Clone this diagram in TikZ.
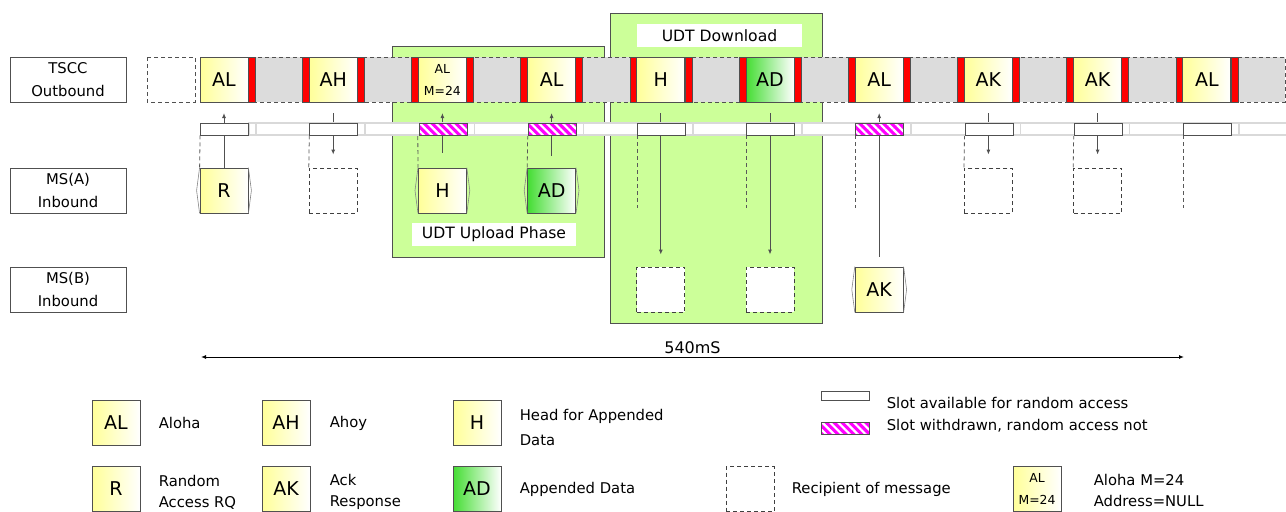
\documentclass[tikz,border=0pt]{standalone}
\usepackage{fontspec}
\setmainfont{DejaVu Sans}
\usetikzlibrary{arrows.meta,patterns.meta,positioning}

\definecolor{band}{HTML}{DCDCDC}
\definecolor{zone}{HTML}{CCFF99}
\definecolor{ylw}{HTML}{FFFF99}
\definecolor{grn}{HTML}{44DD33}
\definecolor{edge}{HTML}{505050}
\definecolor{mag}{RGB}{255,0,255}

\pgfdeclarelayer{back}
\pgfsetlayers{back,main}

\newcommand{\smallal}{\fontsize{6.2}{9.5}\selectfont}
\newcommand{\alm}{\smallal AL\\\smallal M=24}

\tikzset{
  lane/.style={draw=edge,fill=white,minimum width=58pt,minimum height=22.5pt,inner sep=0pt,align=center,font=\fontsize{7.4}{11.5}\selectfont},
  msg/.style={draw=edge,left color=ylw,right color=white,minimum width=24pt,minimum height=22.5pt,inner sep=0pt,align=center,font=\fontsize{9.5}{11}\selectfont},
  appd/.style={msg,left color=grn},
  rcp/.style={draw=black!75,dash pattern=on 2pt off 1.5pt,fill=white,minimum width=24pt,minimum height=22.5pt,inner sep=0pt},
  slotbox/.style={draw=edge,fill=white,minimum width=24pt,minimum height=6pt,inner sep=0pt},
  barred/.style={slotbox,preaction={fill=mag},pattern={Lines[angle=-45,distance=2.8pt,line width=1.1pt]},pattern color=white},
  redbar/.style={fill=red,draw=edge,line width=0.3pt},
  tag/.style={fill=white,inner sep=0pt,minimum height=11.5pt,font=\fontsize{7.8}{9}\selectfont},
  note/.style={anchor=west,inner sep=0pt,align=left,font=\fontsize{7.4}{10.5}\selectfont},
  link/.style={draw=edge,line width=0.5pt},
  guide/.style={draw=black!65,line width=0.4pt,dash pattern=on 2pt off 1.5pt},
  headed/.style={-{Latex[length=2.5pt,width=2pt]}},
}

\begin{document}
\begin{tikzpicture}[x=0.5pt,y=-0.5pt]
  \useasboundingbox (0,0) rectangle (1286,511);
  % UDT phases
  \begin{pgfonlayer}{back}
    \filldraw[fill=zone,draw=edge] (392,46) rectangle (604,257);
    \filldraw[fill=zone,draw=edge] (610,13) rectangle (822,323);
  \end{pgfonlayer}
  \node[tag,minimum width=82pt] (upl) at (494,234.5) {UDT Upload Phase};
  \node[tag,minimum width=82.5pt] (dnl) at (719.5,35.5) {UDT Download};

  % lanes
  \node[lane] (tscc) at (68,79.5) {TSCC\\Outbound};
  \node[lane] (msa) at (68,190.5) {MS(A)\\Inbound};
  \node[lane] (msb) at (68,289.5) {MS(B)\\Inbound};

  % outbound frames
  \draw[edge,dash pattern=on 2pt off 1.5pt,fill=white] (147,57) rectangle (195,102);
  \draw[edge,dash pattern=on 2pt off 1.5pt,fill=band] (200,57) rectangle (1285,102);
  \foreach \lbl/\kind [count=\i from 0] in {AL/msg,AH/msg,\alm/msg,AL/msg,H/msg,AD/appd,AL/msg,AK/msg,AK/msg,AL/msg}{
    \pgfmathsetmacro\xa{200+109.2*\i}
    \ifnum\i>0 \filldraw[redbar] (\xa-7,57) rectangle (\xa,102); \fi
    \filldraw[redbar] (\xa+48,57) rectangle (\xa+55,102);
    \node[\kind] (m\i) at (\xa+24,79.5) {\lbl};
    \coordinate (t\i) at (\xa+24,113);
  }

  % random access slots
  \draw[gray!30,line width=0.8pt,fill=white] (249,123) rectangle (1292,135);
  \foreach \kind [count=\i from 0] in {slotbox,slotbox,barred,barred,slotbox,slotbox,barred,slotbox,slotbox,slotbox}{
    \pgfmathsetmacro\xa{200+109.2*\i}
    \draw[gray!30,line width=0.8pt] (\xa+56,123) -- (\xa+56,135);
    \node[\kind] (s\i) at (\xa+24.5,129) {};
  }

  % inbound messages and recipients
  \node[msg] (r) at (m0 |- msa) {R};
  \node[rcp] (ra1) at (m1 |- msa) {};
  \node[msg] (h) at (m2 |- msa) {H};
  \node[appd] (ad) at (m3 |- msa) {AD};
  \node[rcp] (ra7) at (m7 |- msa) {};
  \node[rcp] (ra8) at (m8 |- msa) {};
  \node[rcp] (rb4) at (m4 |- msb) {};
  \node[rcp] (rb5) at (m5 |- msb) {};
  \node[msg] (ak) at (m6 |- msb) {AK};
  \foreach \n in {r,h,ad,ak}
    \draw[edge!70,line width=0.3pt] (\n.north west) -- ([xshift=-1.5pt]\n.west) -- (\n.south west)
      (\n.north east) -- ([xshift=1.5pt]\n.east) -- (\n.south east);

  \coordinate (stop) at (0,208);
  \begin{pgfonlayer}{back}
    \draw[link,headed] (r.north) -- (t0);
    \draw[link,headed] ([yshift=7.5pt]h.north) -- (t2);
    \draw[link,headed] ([yshift=6pt]ad.north) -- (t3);
    \draw[link,headed] ([yshift=5pt]ak.north) -- (t6);
    \draw[link,headed] (t1) -- ([yshift=6.5pt]ra1.north);
    \draw[link,headed] (t7) -- ([yshift=6.5pt]ra7.north);
    \draw[link,headed] (t8) -- ([yshift=6.5pt]ra8.north);
    \draw[link,headed] (t4) -- ([yshift=6pt]rb4.north);
    \draw[link,headed] (t5) -- ([yshift=6pt]rb5.north);
    \draw[guide] (s0.south west) -- (r.north west);
    \draw[guide] (s1.south west) -- (ra1.north west);
    \draw[guide] (s2.south west) -- (h.north west);
    \draw[guide] (s3.south west) -- (ad.north west);
    \draw[guide] (s7.south west) -- (ra7.north west);
    \draw[guide] (s8.south west) -- (ra8.north west);
    \foreach \i in {4,5,6,9}
      \draw[guide] (s\i.south west) -- (s\i.south west |- stop);
  \end{pgfonlayer}

  % multiframe length
  \coordinate (span-l) at (201,357);
  \coordinate (span-r) at (1184,357);
  \draw[black,line width=0.5pt,{Latex[length=2.5pt,width=2pt]}-{Latex[length=2.5pt,width=2pt]}] (span-l) -- (span-r)
    node[midway,above=1.5pt,inner sep=0pt,font=\fontsize{8}{9}\selectfont] (len) {540mS};

  % legend
  \node[msg] (k-al) at (116,423) {AL};
  \node[note,right=9pt of k-al] {Aloha};
  \node[msg] (k-ah) at (286,423) {AH};
  \node[note,right=9.5pt of k-ah] {Ahoy};
  \node[msg] (k-h) at (477,423) {H};
  \node[note,right=9pt of k-h,yshift=-2pt,font=\fontsize{7.4}{12.5}\selectfont] {Head for Appended\\Data};
  \node[msg] (k-r) at (116,489) {R};
  \node[note,right=9pt of k-r,yshift=-1.5pt] {Random\\Access RQ};
  \node[msg] (k-ak) at (286,489) {AK};
  \node[note,right=9.5pt of k-ak,yshift=-1.5pt] {Ack\\Response};
  \node[appd] (k-ad) at (477,489) {AD};
  \node[note,right=9pt of k-ad] {Appended Data};
  \node[slotbox,minimum height=4.5pt] (k-free) at (845,396) {};
  \node[note,right=8.5pt of k-free,yshift=-3.5pt] {Slot available for random access};
  \node[barred] (k-bar) at (845,428.5) {};
  \node[note,right=8.5pt of k-bar,yshift=1.5pt] {Slot withdrawn, random access not};
  \node[rcp] (k-rcp) at (750,489) {};
  \node[note,right=8.5pt of k-rcp] {Recipient of message};
  \node[msg] (k-alm) at (1037,489) {\alm};
  \node[note,right=16pt of k-alm,yshift=-0.5pt] {Aloha M=24\\Address=NULL};
\end{tikzpicture}
\end{document}
